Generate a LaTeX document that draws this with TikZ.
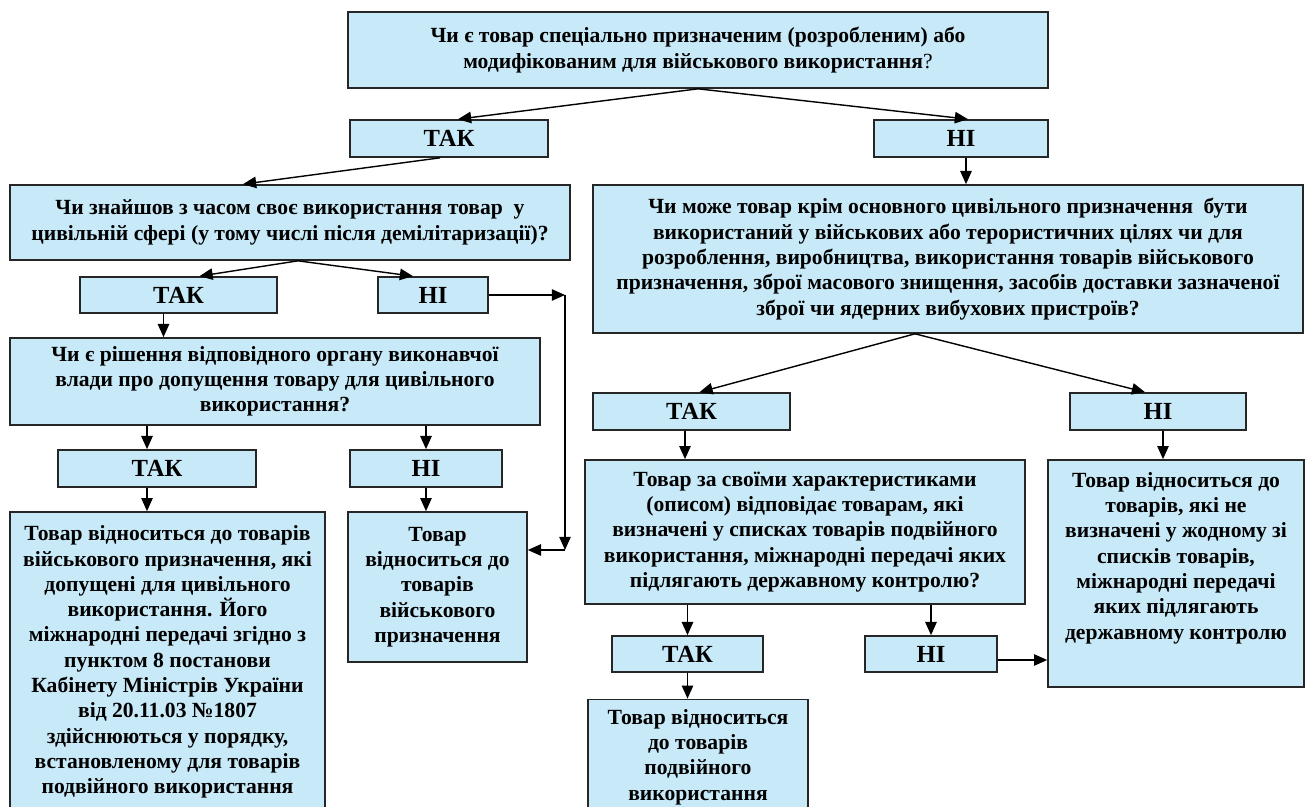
\documentclass[tikz,border=0pt]{standalone}
\usepackage{fontspec}
\setmainfont{Liberation Serif}
\usetikzlibrary{arrows.meta}

\definecolor{boxblue}{RGB}{200,233,248}

\begin{document}
\begin{tikzpicture}[x=0.02cm,y=-0.02cm,
    box/.style={draw=black!85, line width=0.95pt, fill=boxblue, align=center,
      inner sep=2pt, font=\fontsize{12.3}{14.4}\selectfont\bfseries},
    answer/.style={box, font=\fontsize{14}{16}\selectfont\bfseries},
    arr/.style={-{Triangle[length=7.5pt,width=6.5pt]}, line width=0.8pt}]

  \useasboundingbox (0,0) rectangle (1305,807);
  \clip (0,0) rectangle (1305,807);

  % Top question
  \node[box, minimum width=14cm, minimum height=1.52cm] (q1) at (698,50)
    {Чи є товар спеціально призначеним (розробленим) або\\
     модифікованим для військового використання{\mdseries ?}};
  \node[answer, minimum width=3.96cm, minimum height=0.74cm] (yes1) at (449,138.5) {ТАК};
  \node[answer, minimum width=3.48cm, minimum height=0.74cm] (no1) at (961,138.5) {НІ};

  % Left branch
  \node[box, minimum width=11.2cm, minimum height=1.5cm] (q2) at (290,222.5)
    {Чи знайшов з часом своє використання товар \ у\\
     цивільній сфері (у тому числі після демілітаризації)?};
  \node[answer, minimum width=3.94cm, minimum height=0.72cm] (yes2) at (178.5,295) {ТАК};
  \node[answer, minimum width=2.2cm, minimum height=0.72cm] (no2) at (433,295) {НІ};

  \node[box, minimum width=10.6cm, minimum height=1.74cm] (q4) at (275,381.5)
    {Чи є рішення відповідного органу виконавчої\\
     влади про допущення товару для цивільного\\
     використання?};
  \node[answer, minimum width=3.96cm, minimum height=0.74cm] (yes3) at (157,468.5) {ТАК};
  \node[answer, minimum width=3.04cm, minimum height=0.74cm] (no3) at (426,468.5) {НІ};

  \node[box, minimum width=6.3cm, minimum height=6.0cm] (resA) at (167.5,662)
    {Товар відноситься до товарів\\
     військового призначення, які\\
     допущені для цивільного\\
     використання. Його\\
     міжнародні передачі згідно з\\
     пунктом 8 постанови\\
     Кабінету Міністрів України\\
     від 20.11.03 №1807\\
     здійснюються у порядку,\\
     встановленому для товарів\\
     подвійного використання};
  \node[box, minimum width=3.58cm, minimum height=3.0cm] (resB) at (437.5,587)
    {Товар\\ відноситься до\\ товарів\\ військового\\ призначення};

  \coordinate (c1) at (565,295);
  \coordinate (c2) at (565,550);

  % Right branch
  \node[box, minimum width=14.2cm, minimum height=2.96cm] (q3) at (948,259)
    {Чи може товар крім основного цивільного призначення \ бути\\
     використаний у військових або терористичних цілях чи для\\
     розроблення, виробництва, використання товарів військового\\
     призначення, зброї масового знищення, засобів доставки зазначеної\\
     зброї чи ядерних вибухових пристроїв?};
  \node[answer, minimum width=3.94cm, minimum height=0.74cm] (yes4) at (691.5,411.5) {ТАК};
  \node[answer, minimum width=3.52cm, minimum height=0.74cm] (no4) at (1158,411.5) {НІ};

  \node[box, minimum width=8.8cm, minimum height=2.88cm] (q5) at (805,532)
    {Товар за своїми характеристиками\\
     (описом) відповідає товарам, які\\
     визначені у списках товарів подвійного\\
     використання, міжнародні передачі яких\\
     підлягають державному контролю?};
  \node[box, inner sep=0pt] (resC) at (1176,573.5)
    {\parbox[c][4.54cm][t]{5.12cm}{\centering\vspace{7pt}
     Товар відноситься до\\ товарів, які не\\ визначені у жодному зі\\
     списків товарів,\\ міжнародні передачі\\ яких підлягають\\
     державному контролю}};
  \node[answer, minimum width=3.02cm, minimum height=0.72cm] (yes5) at (687.5,654) {ТАК};
  \node[answer, minimum width=2.64cm, minimum height=0.72cm] (no5) at (931,654) {НІ};
  \node[box, minimum width=4.4cm, minimum height=2.3cm] (resD) at (698,757)
    {Товар відноситься\\ до товарів\\ подвійного\\ використання};

  % Connectors
  \draw[arr] (q1.south) -- ([xshift=0.18cm]yes1.north);
  \draw[arr] (q1.south) -- ([xshift=0.14cm]no1.north);
  \draw[arr] ([xshift=-0.18cm]yes1.south) -- ([xshift=-0.94cm]q2.north);
  \draw[arr] ([xshift=0.1cm]no1.south) -- ([xshift=0.1cm]no1.south |- q3.north);

  \draw[arr] ([xshift=0.16cm]q2.south) -- ([xshift=0.42cm]yes2.north);
  \draw[arr] ([xshift=0.16cm]q2.south) -- ([xshift=-0.4cm]no2.north);
  \draw[arr] ([xshift=-0.3cm]yes2.south) -- ([xshift=-0.3cm]yes2.south |- q4.north);
  \draw[arr] (no2.east) -- (c1);
  \draw[arr] (c1) -- (c2);
  \draw[arr] (c2) -- (c2 -| resB.east);

  \draw[arr] ([xshift=-0.2cm]yes3.north |- q4.south) -- ([xshift=-0.2cm]yes3.north);
  \draw[arr] (no3.north |- q4.south) -- (no3.north);
  \draw[arr] ([xshift=-0.2cm]yes3.south) -- ([xshift=-0.2cm]yes3.south |- resA.north);
  \draw[arr] (no3.south) -- (no3.south |- resB.north);

  \draw[arr] ([xshift=-0.66cm]q3.south) -- ([xshift=0.16cm]yes4.north);
  \draw[arr] ([xshift=-0.66cm]q3.south) -- ([xshift=-0.26cm]no4.north);
  \draw[arr] ([xshift=-0.13cm]yes4.south) -- ([xshift=-0.13cm]yes4.south |- q5.north);
  \draw[arr] ([xshift=0.1cm]no4.south) -- ([xshift=0.1cm]no4.south |- resC.north);

  \draw[arr] (yes5.north |- q5.south) -- (yes5.north);
  \draw[arr] (no5.north |- q5.south) -- (no5.north);
  \draw[arr] (yes5.south) -- (yes5.south |- resD.north);
  \draw[arr] ([yshift=-0.12cm]no5.east) -- ([yshift=-0.12cm]no5.east -| resC.west);
\end{tikzpicture}
\end{document}
